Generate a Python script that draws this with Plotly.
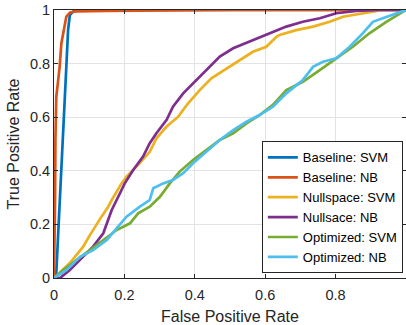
import plotly.graph_objects as go

# Baseline: SVM
base_svm_fpr = [0, 0.0065, 0.011, 0.016, 0.026, 0.030, 0.035, 0.040, 0.045, 0.054, 0.068, 1.0]
base_svm_tpr = [0, 0.018, 0.142, 0.266, 0.515, 0.664, 0.788, 0.925, 0.981, 0.994, 1.0, 1.0]

# Baseline: NB
base_nb_fpr = [0, 0.001, 0.003, 0.004, 0.006, 0.0065, 0.011, 0.016, 0.021, 0.026, 0.030, 0.035, 0.045, 0.059, 0.15, 0.30, 0.50, 1.0]
base_nb_tpr = [0, 0.07, 0.29, 0.515, 0.627, 0.677, 0.727, 0.788, 0.876, 0.913, 0.950, 0.975, 0.990, 0.995, 0.997, 0.998, 1.0, 1.0]

# Nullspace: SVM
null_svm_fpr = [0, 0.045, 0.083, 0.102, 0.135, 0.154, 0.164, 0.192, 0.206, 0.239, 0.272, 0.291, 0.320, 0.353,
                0.381, 0.414, 0.447, 0.490, 0.528, 0.565, 0.603, 0.632, 0.641, 0.688, 0.736, 0.783, 0.821,
                0.877, 0.934, 1.0]
null_svm_tpr = [0, 0.056, 0.117, 0.160, 0.229, 0.266, 0.291, 0.353, 0.378, 0.422, 0.471, 0.521, 0.565, 0.602,
                0.652, 0.701, 0.745, 0.782, 0.813, 0.844, 0.863, 0.900, 0.907, 0.925, 0.938, 0.956, 0.975,
                0.988, 1.0, 1.0]

# Nullsace: NB
null_nb_fpr = [0, 0.017, 0.045, 0.083, 0.111, 0.140, 0.154, 0.164, 0.178, 0.201, 0.225, 0.253, 0.272, 0.291,
               0.320, 0.338, 0.367, 0.400, 0.433, 0.471, 0.509, 0.556, 0.603, 0.660, 0.707, 0.755, 0.802,
               0.859, 0.925, 1.0]
null_nb_tpr = [0, 0.0, 0.030, 0.079, 0.117, 0.167, 0.223, 0.254, 0.291, 0.353, 0.403, 0.453, 0.503, 0.540,
               0.590, 0.639, 0.689, 0.733, 0.776, 0.826, 0.857, 0.882, 0.907, 0.938, 0.956, 0.969, 0.988,
               0.997, 1.0, 1.0]

# Optimized: SVM
opt_svm_fpr = [0, 0.026, 0.064, 0.102, 0.140, 0.178, 0.216, 0.239, 0.272, 0.301, 0.329, 0.357, 0.395, 0.433,
               0.471, 0.509, 0.547, 0.584, 0.622, 0.660, 0.707, 0.755, 0.802, 0.849, 0.896, 0.944, 1.0]
opt_svm_tpr = [0, 0.030, 0.067, 0.104, 0.142, 0.179, 0.204, 0.241, 0.266, 0.303, 0.353, 0.397, 0.440, 0.478,
               0.515, 0.540, 0.577, 0.608, 0.646, 0.701, 0.732, 0.776, 0.820, 0.863, 0.913, 0.956, 1.0]

# Optimized: NB
opt_nb_fpr = [0, 0.036, 0.074, 0.111, 0.150, 0.178, 0.206, 0.244, 0.272, 0.282, 0.310, 0.338, 0.367, 0.395,
              0.433, 0.471, 0.509, 0.547, 0.584, 0.622, 0.660, 0.707, 0.736, 0.764, 0.802, 0.840, 0.877,
              0.906, 0.934, 1.0]
opt_nb_tpr = [0, 0.030, 0.079, 0.104, 0.142, 0.185, 0.229, 0.266, 0.291, 0.335, 0.353, 0.366, 0.391, 0.428,
              0.471, 0.515, 0.552, 0.583, 0.608, 0.639, 0.689, 0.739, 0.788, 0.807, 0.820, 0.863, 0.913,
              0.956, 0.969, 1.0]

x_ticks = [0, 0.2, 0.4, 0.6, 0.8, 1]
x_tick_labels = ["0", "0.2", "0.4", "0.6", "0.8", "1"]
y_ticks = [0, 0.2, 0.4, 0.6, 0.8, 1]
y_tick_labels = ["0", "0.2", "0.4", "0.6", "0.8", "1"]

series = [
    ("Baseline: SVM", base_svm_fpr, base_svm_tpr, "#0072BD"),
    ("Baseline: NB", base_nb_fpr, base_nb_tpr, "#D95319"),
    ("Nullspace: SVM", null_svm_fpr, null_svm_tpr, "#EDB120"),
    ("Nullsace: NB", null_nb_fpr, null_nb_tpr, "#7E2F8E"),
    ("Optimized: SVM", opt_svm_fpr, opt_svm_tpr, "#77AC30"),
    ("Optimized: NB", opt_nb_fpr, opt_nb_tpr, "#4DBEEE"),
]

fig = go.Figure()
for name, xs, ys, col in series:
    fig.add_trace(go.Scatter(x=xs, y=ys, mode="lines", name=name,
                             line=dict(color=col, width=2.7), cliponaxis=True))

font_family = "Liberation Sans, Arial, Helvetica, sans-serif"
axis_color = "#262626"
grid_color = "#e3e3e3"

fig.update_layout(
    width=406, height=325,
    margin=dict(l=54, r=0, t=10, b=47, pad=0, autoexpand=False),
    paper_bgcolor="white", plot_bgcolor="white",
    font=dict(family=font_family, color=axis_color, size=14),
    showlegend=True,
    legend=dict(
        x=0.991, y=0.017, xanchor="right", yanchor="bottom",
        bgcolor="white", bordercolor=axis_color, borderwidth=1,
        font=dict(family=font_family, size=13, color="#000000"),
        itemwidth=30, tracegroupgap=0,
    ),
    xaxis=dict(
        range=[0, 1], tickvals=x_ticks, ticktext=x_tick_labels, automargin=False,
        showgrid=True, gridcolor=grid_color, gridwidth=1, zeroline=False,
        showline=True, linecolor=axis_color, linewidth=1, mirror="ticks",
        ticks="inside", ticklen=4, tickcolor=axis_color, ticklabelstandoff=4,
        tickfont=dict(size=14.5, color=axis_color),
        title=dict(text="False Positive Rate", font=dict(size=16, color=axis_color), standoff=9),
    ),
    yaxis=dict(
        range=[0, 1], tickvals=y_ticks, ticktext=y_tick_labels, automargin=False,
        showgrid=True, gridcolor=grid_color, gridwidth=1, zeroline=False,
        showline=True, linecolor=axis_color, linewidth=1, mirror="ticks",
        ticks="inside", ticklen=4, tickcolor=axis_color,
        tickfont=dict(size=14.5, color=axis_color),
        title=dict(text="True Positive Rate", font=dict(size=16, color=axis_color), standoff=6),
    ),
)

fig.write_html("out.html", config={"displayModeBar": False, "staticPlot": True},
               post_script="document.body.style.margin='0';document.body.style.overflow='hidden';")
